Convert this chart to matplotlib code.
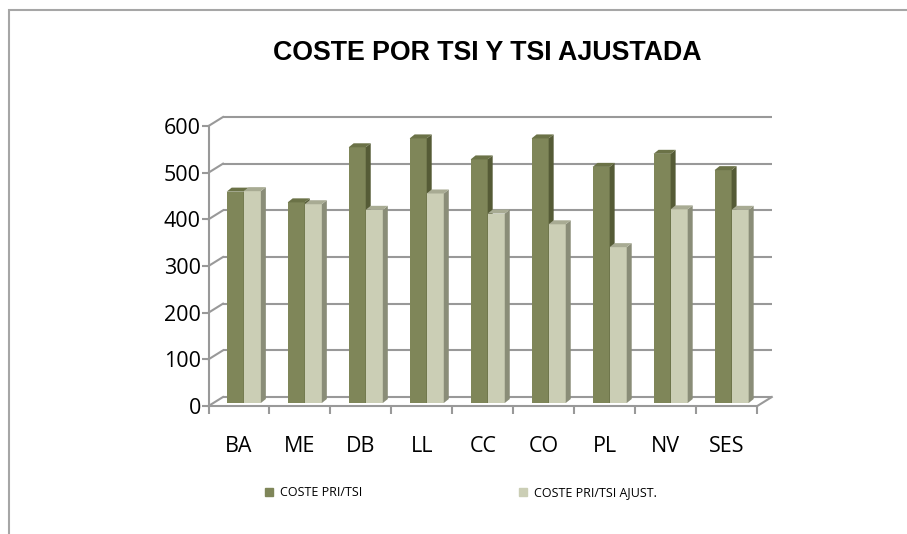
import matplotlib
matplotlib.use("Agg")
import matplotlib.pyplot as plt
from matplotlib.patches import Polygon, Rectangle
import numpy as np

# data
cats = ['BA', 'ME', 'DB', 'LL', 'CC', 'CO', 'PL', 'NV', 'SES']
coste = [453, 430, 548, 567, 522, 567, 506, 534, 499]
coste_ajust = [454, 426, 414, 449, 406, 383, 334, 415, 414]
yticks = [0, 100, 200, 300, 400, 500, 600]

# colours (front, side, top)
dark = ('#7F8659', '#555B36', '#6B7247')
light = ('#CBCEB5', '#8A8D78', '#A8AB93')
gridc = '#999999'

W, H = 907, 534
fig = plt.figure(figsize=(W / 100, H / 100), dpi=100)

# front plane of the plot area, in pixels
x0, x1 = 208.5, 757.3
y0, y1 = 406, 126
ax = fig.add_axes([x0 / W, 1 - y0 / H, (x1 - x0) / W, (y0 - y1) / H])
ax.set_xlim(0, len(cats))
ax.set_ylim(0, 600)
ax.patch.set_visible(False)

# 3d depth of the walls, in data units
DX = 14.5 / ((x1 - x0) / len(cats))
DY = 9 / ((y0 - y1) / 600)
f = 0.33            # bars sit a third of the way back
bw = 0.28           # bar width
bdx, bdy = 0.082, 8.6   # depth of a bar

# back wall grid and side diagonals
for v in yticks:
    ax.plot([DX, len(cats) + DX], [v + DY, v + DY], color=gridc, lw=1.5,
            zorder=1, clip_on=False, solid_capstyle='butt')
    ax.plot([0, DX], [v, v + DY], color=gridc, lw=1.5, zorder=1, clip_on=False)
ax.plot([len(cats), len(cats) + DX], [0, DY], color=gridc, lw=1.5, zorder=1,
        clip_on=False)


def bar3d(xl, h, cols, z):
    b = f * DY
    ax.bar(xl, h, width=bw, bottom=b, align='edge', color=cols[0],
           zorder=z, clip_on=False)
    side = [(xl + bw, b), (xl + bw + bdx, b + bdy),
            (xl + bw + bdx, b + h + bdy), (xl + bw, b + h)]
    top = [(xl, b + h), (xl + bw, b + h),
           (xl + bw + bdx, b + h + bdy), (xl + bdx, b + h + bdy)]
    ax.add_patch(Polygon(side, closed=True, facecolor=cols[1], edgecolor='none',
                         zorder=z, clip_on=False))
    ax.add_patch(Polygon(top, closed=True, facecolor=cols[2], edgecolor='none',
                         zorder=z, clip_on=False))


x = np.arange(len(cats))
shift = f * DX
for i in range(len(cats)):
    c = i + 0.5 + shift
    bar3d(c - bw, coste[i], dark, 3 + 2 * i)
    bar3d(c, coste_ajust[i], light, 4 + 2 * i)

# axes, ticks and labels
for s in ['top', 'right']:
    ax.spines[s].set_visible(False)
for s in ['left', 'bottom']:
    ax.spines[s].set_color(gridc)
    ax.spines[s].set_linewidth(1.5)
    ax.spines[s].set_zorder(2)

lab_font = 'Open Sans'
ax.set_yticks(yticks)
ax.set_yticklabels([str(v) for v in yticks], fontsize=15.5, family=lab_font)
ax.tick_params(axis='y', length=5, width=1.5, color=gridc, pad=0.5)

ax.set_xticks(np.arange(len(cats) + 1))
ax.set_xticklabels([])
ax.tick_params(axis='x', which='major', length=6, width=1.5, color=gridc)
ax.set_xticks(x + 0.5, minor=True)
ax.set_xticklabels(cats, minor=True, fontsize=15.5, family=lab_font)
ax.tick_params(axis='x', which='minor', length=0, pad=21.5)

fig.text(487.5 / W, 1 - 53 / H, 'COSTE POR TSI Y TSI AJUSTADA',
         ha='center', va='center', fontsize=19.3, fontweight='bold',
         family='Liberation Sans')

# legend
handles = [Rectangle((0, 0), 1, 1, color=dark[0]),
           Rectangle((0, 0), 1, 1, color=light[0])]
fig.legend(handles, ['COSTE PRI/TSI', 'COSTE PRI/TSI AJUST.'], ncol=2,
           loc='center left', bbox_to_anchor=(265 / W, 1 - 493 / H),
           frameon=False, prop={'family': lab_font, 'size': 9},
           handlelength=0.62, handleheight=0.62, handletextpad=0.55,
           columnspacing=12.6, borderaxespad=0, borderpad=0)

# outer chart frame
fig.add_artist(Rectangle((9 / W, -0.1), 1.2, 1.1 - 10 / H, transform=fig.transFigure,
                         fill=False, edgecolor='#A6A6A6', lw=1.5))

fig.savefig('out.png', dpi=100)
